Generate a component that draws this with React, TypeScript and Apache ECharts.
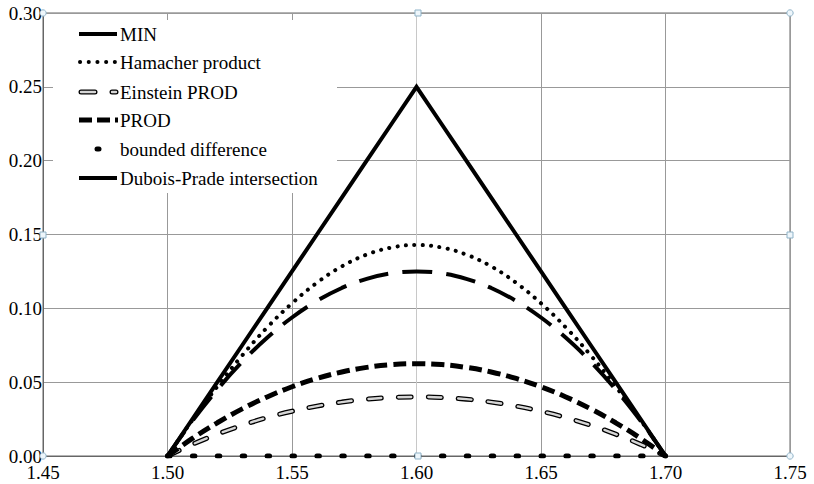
import React, { useEffect, useRef } from "react";
import * as echarts from "echarts";

const xValues = [1.50, 1.51, 1.52, 1.53, 1.54, 1.55, 1.56, 1.57, 1.58, 1.59, 1.60, 1.61, 1.62, 1.63, 1.64, 1.65, 1.66, 1.67, 1.68, 1.69, 1.70];
const minVals = [0, 0.025, 0.05, 0.075, 0.1, 0.125, 0.15, 0.175, 0.2, 0.225, 0.25, 0.225, 0.2, 0.175, 0.15, 0.125, 0.1, 0.075, 0.05, 0.025, 0];
const hamacherVals = [0, 0.0243, 0.0471, 0.0681, 0.087, 0.1034, 0.1173, 0.1284, 0.1364, 0.1412, 0.1429, 0.1412, 0.1364, 0.1284, 0.1173, 0.1034, 0.087, 0.0681, 0.0471, 0.0243, 0];
const einsteinVals = [0, 0.0079, 0.0148, 0.0208, 0.026, 0.0303, 0.0338, 0.0365, 0.0385, 0.0396, 0.04, 0.0396, 0.0385, 0.0365, 0.0338, 0.0303, 0.026, 0.0208, 0.0148, 0.0079, 0];
const prodVals = [0, 0.0119, 0.0225, 0.0319, 0.04, 0.0469, 0.0525, 0.0569, 0.06, 0.0619, 0.0625, 0.0619, 0.06, 0.0569, 0.0525, 0.0469, 0.04, 0.0319, 0.0225, 0.0119, 0];
const boundedVals = [0, 0, 0, 0, 0, 0, 0, 0, 0, 0, 0, 0, 0, 0, 0, 0, 0, 0, 0, 0, 0];
const duboisVals = [0, 0.0238, 0.045, 0.0638, 0.08, 0.0938, 0.105, 0.1138, 0.12, 0.1238, 0.125, 0.1238, 0.12, 0.1138, 0.105, 0.0938, 0.08, 0.0638, 0.045, 0.0238, 0];
const legendNames = ["MIN", "Hamacher product", "Einstein PROD", "PROD", "bounded difference", "Dubois-Prade intersection"];

const FONT = "Liberation Serif";

const pairs = (ys: number[]) => xValues.map((x, i) => [x, ys[i]]);

export default function App() {
  const ref = useRef<HTMLDivElement>(null);
  useEffect(() => {
    if (!ref.current) return;
    const chart = echarts.init(ref.current, undefined, { renderer: "svg" });
    const L = 43, T = 13, R = 790, B = 456, MX = 418, MY = 235;
    const rows = [34, 62, 92, 120, 149, 178];
    const handleStyle = { fill: "#eef6fb", stroke: "#8fb3c8", lineWidth: 1 };
    const circ = (x: number, y: number) => ({ type: "circle", shape: { cx: x, cy: y, r: 3.2 }, style: handleStyle, z: 20 });
    const sq = (x: number, y: number) => ({ type: "rect", shape: { x: x - 3, y: y - 3, width: 6, height: 6 }, style: handleStyle, z: 20 });
    const ln = (x1: number, x2: number, y: number, style: any) => ({ type: "line", shape: { x1, y1: y, x2, y2: y }, style: { stroke: "#000", ...style }, z: 11 });
    const graphic: any[] = [
      { type: "rect", shape: { x: 53, y: 20, width: 284, height: 173 }, style: { fill: "#fff" }, z: 10 },
      ln(79, 117, rows[0], { lineWidth: 4 }),
      ln(80, 115, rows[1], { lineWidth: 4, lineDash: [0.1, 8.6], lineCap: "round" }),
      ln(81, 116, rows[2], { lineWidth: 5, lineDash: [14, 17], lineCap: "round" }),
      { ...ln(81, 116, rows[2], { lineWidth: 2.4, lineDash: [14, 17], lineCap: "round", stroke: "#d6d6d6" }), z: 12 },
      ln(79, 118, rows[3], { lineWidth: 5, lineDash: [13, 5] }),
      ln(97, 99, rows[4], { lineWidth: 5, lineCap: "round" }),
      ln(79, 117, rows[5], { lineWidth: 4 }),
      ...legendNames.map((n, i) => ({
        type: "text", x: 120, y: rows[i], z: 11,
        style: { text: n, fontSize: 19, fontFamily: FONT, fill: "#000", verticalAlign: "middle", align: "left" },
      })),
      circ(L, T), sq(MX, T), circ(R, T), sq(L, MY), sq(R, MY), circ(L, B), sq(MX, B), circ(R, B),
    ];
    const base = { type: "line", symbol: "none", silent: true, z: 3 };
    chart.setOption({
      animation: false,
      backgroundColor: "#fff",
      textStyle: { fontFamily: FONT },
      grid: { left: L, top: T, right: 814 - R, bottom: 484 - B, show: true, borderColor: "#666", borderWidth: 1 },
      xAxis: {
        type: "value", min: 1.45, max: 1.75, interval: 0.05,
        axisLine: { show: true, lineStyle: { color: "#666", width: 1 } },
        axisTick: { show: false },
        axisLabel: { color: "#000", fontSize: 19, fontFamily: FONT, lineHeight: 14, margin: 9, formatter: (v: number) => v.toFixed(2) },
        splitLine: { show: true, lineStyle: { color: ["#999", "#999", "#999", "#c8c8c8", "#999", "#999", "#999"], width: 1 } },
      },
      yAxis: {
        type: "value", min: 0, max: 0.3, interval: 0.05,
        axisLine: { show: true, lineStyle: { color: "#666", width: 1 } },
        axisTick: { show: false },
        axisLabel: { color: "#000", fontSize: 19, fontFamily: FONT, lineHeight: 14, margin: 1, formatter: (v: number) => v.toFixed(2) },
        splitLine: { show: true, lineStyle: { color: "#999", width: 1 } },
      },
      graphic,
      series: [
        { ...base, name: "MIN", data: pairs(minVals), lineStyle: { color: "#000", width: 4, join: "miter" } },
        { ...base, name: "Hamacher product", smooth: 0.4, data: pairs(hamacherVals), lineStyle: { color: "#000", width: 4, type: [0.1, 8.3], cap: "round" } },
        { ...base, name: "Einstein PROD", smooth: 0.4, data: pairs(einsteinVals), lineStyle: { color: "#000", width: 5, type: [13, 17], cap: "round" } },
        { ...base, name: "Einstein PROD inner", smooth: 0.4, data: pairs(einsteinVals), lineStyle: { color: "#d6d6d6", width: 2.4, type: [13, 17], cap: "round" } },
        { ...base, name: "PROD", smooth: 0.4, data: pairs(prodVals), lineStyle: { color: "#000", width: 5, type: [13, 6] } },
        { ...base, name: "bounded difference", data: pairs(boundedVals), lineStyle: { color: "#000", width: 5, type: [2.5, 22.4], cap: "round" } },
        { ...base, name: "Dubois-Prade intersection", smooth: 0.4, data: pairs(duboisVals), lineStyle: { color: "#000", width: 4, type: [30, 14] } },
      ],
    });
    return () => chart.dispose();
  }, []);
  return <div ref={ref} style={{ position: "fixed", left: 0, top: 0, width: 814, height: 484 }} />;
}
